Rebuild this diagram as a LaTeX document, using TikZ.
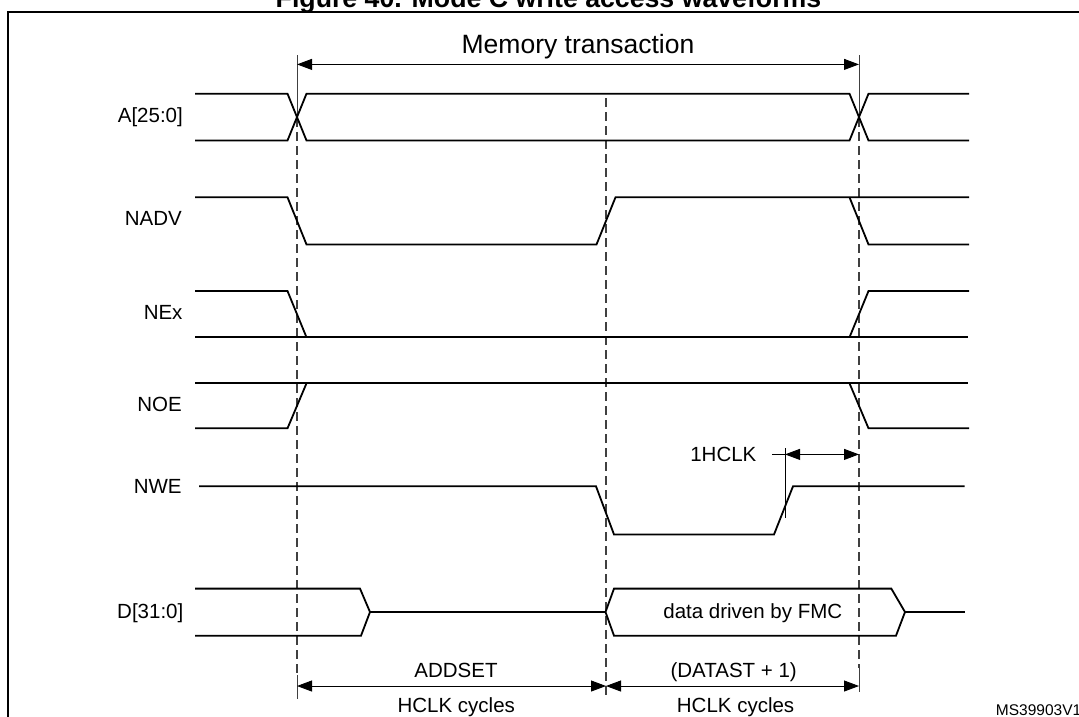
\documentclass[tikz,border=0pt]{standalone}
\usepackage{fontspec}
\setmainfont{Liberation Sans}
\usetikzlibrary{arrows.meta}
\begin{document}
\begin{tikzpicture}[x=1pt,y=-1pt,
  sig/.style={line width=1.8pt, line join=miter},
  guide/.style={line width=1.1pt, draw=black!75, dash pattern=on 9pt off 5pt},
  guidesolid/.style={line width=1pt, draw=black!75},
  dim/.style={line width=0.9pt, {Triangle[length=15pt,width=11pt]}-{Triangle[length=15pt,width=11pt]}},
  lbl/.style={font=\fontsize{20.5}{24}\selectfont, inner sep=0pt},
  big/.style={font=\fontsize{26.5}{30}\selectfont, inner sep=0pt},
  small/.style={font=\fontsize{15.5}{18}\selectfont, inner sep=0pt},
  ttl/.style={font=\bfseries\fontsize{26.7}{30}\selectfont, inner sep=0pt}
]
\useasboundingbox (0,0) rectangle (1079,716);
% frame (extends beyond the page on the right and bottom)
\draw[line width=1.8pt] (7.6,740) -- (7.6,11.8) -- (1100,11.8);
\node[ttl, anchor=base] (title) at (548.5,7.3) {Figure 40. Mode C write access waveforms};

% timing references
\coordinate (t1a) at (297,55);   \coordinate (t1b) at (297,118);
\coordinate (t1c) at (297,675);  \coordinate (t1d) at (297,699);
\coordinate (t2a) at (606,98);   \coordinate (t2b) at (606,695);
\coordinate (t3a) at (859,55);   \coordinate (t3b) at (859,118);
\coordinate (t3c) at (859,668);  \coordinate (t3d) at (859,692);
\draw[guidesolid] (t1a) -- (t1b);
\draw[guide] (t1b) -- (t1c);
\draw[guidesolid] (t1c) -- (t1d);
\draw[guide] (t2a) -- (t2b);
\draw[guidesolid] (t3a) -- (t3b);
\draw[guide] (t3b) -- (t3c);
\draw[guidesolid] (t3c) -- (t3d);

% memory transaction
\coordinate (m1) at (297,64.4); \coordinate (m3) at (859,64.4);
\draw[dim] (m1) -- (m3);
\node[big, anchor=base] (memt) at (578,53) {Memory transaction};

% labels
\node[lbl, anchor=base east] (lA) at (183,122.3) {A[25:0]};
\node[lbl, anchor=base east] (lNADV) at (182,225.5) {NADV};
\node[lbl, anchor=base east] (lNEx) at (182.7,319.3) {NEx};
\node[lbl, anchor=base east] (lNOE) at (182,411) {NOE};
\node[lbl, anchor=base east] (lNWE) at (181.8,493.3) {NWE};
\node[lbl, anchor=base east] (lD) at (183.5,618.7) {D[31:0]};

% A[25:0]
\draw[sig] (195,93.7) -- (287.5,93.7) -- (306.5,140.5) -- (849.5,140.5) -- (868.5,93.7) -- (969,93.7);
\draw[sig] (195,140.5) -- (287.5,140.5) -- (306.5,93.7) -- (849.5,93.7) -- (868.5,140.5) -- (969,140.5);

% NADV
\draw[sig] (195,197.3) -- (287.5,197.3) -- (306.5,244.5) -- (596.5,244.5) -- (615.5,197.3) -- (969,197.3);
\draw[sig] (849.5,197.3) -- (868.5,244.5) -- (969,244.5);

% NEx
\draw[sig] (195,291) -- (287.5,291) -- (306.5,337.3);
\draw[sig] (195,337.3) -- (968,337.3);
\draw[sig] (849.5,337.3) -- (868.5,291) -- (969,291);

% NOE
\draw[sig] (195,428.3) -- (287.5,428.3) -- (306.5,383.3);
\draw[sig] (195,383.3) -- (968,383.3);
\draw[sig] (849.5,383.3) -- (868.5,428.3) -- (969,428.3);

% NWE
\draw[sig] (199,486.3) -- (596,486.3) -- (614,534.5) -- (774,534.5) -- (793,486.3) -- (964.5,486.3);

% D[31:0]
\draw[sig] (195,588.6) -- (360,588.6) -- (370,612) -- (361,635.7) -- (195,635.7);
\draw[sig] (370,612) -- (605.5,612);
\draw[sig] (605.5,612) -- (614,588.6) -- (891.3,588.6) -- (905,612) -- (896,635.7) -- (614,635.7) -- cycle;
\draw[sig] (905,612) -- (964.5,612);
\node[lbl, anchor=base] (dd) at (752.8,618.5) {data driven by FMC};

% 1HCLK
\coordinate (hk1) at (785,448); \coordinate (hk2) at (785,518);
\coordinate (ha) at (785,454.4); \coordinate (hb) at (859,454.4);
\coordinate (hl) at (772,454.4);
\draw[line width=0.9pt] (hk1) -- (hk2);
\draw[line width=0.9pt] (hl) -- (ha);
\draw[dim] (ha) -- (hb);
\node[lbl, anchor=base east] (l1h) at (756.6,461.3) {1HCLK};

% bottom dimensions
\coordinate (b1) at (297,686); \coordinate (b2) at (606,686); \coordinate (b3) at (859,686);
\draw[dim] (b1) -- (b2);
\draw[dim] (b2) -- (b3);
\node[lbl, anchor=base] (addset) at (456,677.5) {ADDSET};
\node[lbl, anchor=base] (hc1) at (456.3,712) {HCLK cycles};
\node[lbl, anchor=base] (datast) at (733.7,677.3) {(DATAST + 1)};
\node[lbl, anchor=base] (hc2) at (735.6,712) {HCLK cycles};

\node[small, anchor=base west] (ms) at (995.7,715.5) {MS39903V1};
\end{tikzpicture}
\end{document}
